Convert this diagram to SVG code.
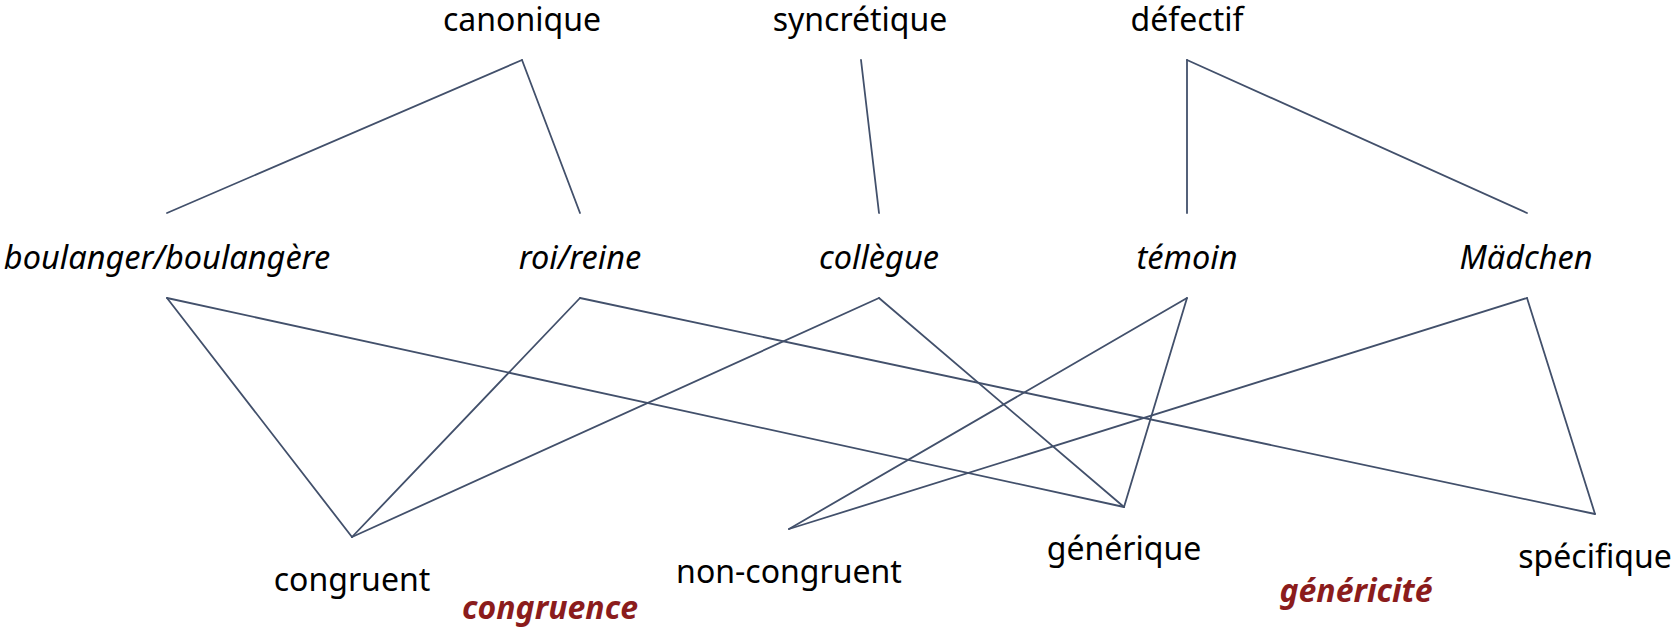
<svg xmlns="http://www.w3.org/2000/svg" width="1671" height="627" viewBox="0 0 1671 627">
<style>
text{font-family:"Noto Sans","Open Sans","DejaVu Sans",sans-serif;font-size:32px;fill:#000;text-anchor:middle}
.i{font-style:italic;font-size:32.5px}
.r{font-style:italic;font-weight:bold;fill:#8b1c1c}
.c line{stroke:#42506b;stroke-width:1.8;stroke-linecap:round}
</style>
<rect width="1671" height="627" fill="#fff"/>
<g class="c" id="connectors">
<line x1="522" y1="60" x2="167" y2="213"/>
<line x1="522" y1="60" x2="580" y2="213"/>
<line x1="861" y1="60" x2="879" y2="213"/>
<line x1="1187" y1="60" x2="1187" y2="213"/>
<line x1="1187" y1="60" x2="1527" y2="213"/>
<line x1="167" y1="298" x2="352" y2="537"/>
<line x1="167" y1="298" x2="1124" y2="507"/>
<line x1="580" y1="298" x2="352" y2="537"/>
<line x1="580" y1="298" x2="1595" y2="514"/>
<line x1="879" y1="298" x2="352" y2="537"/>
<line x1="879" y1="298" x2="1124" y2="507"/>
<line x1="1187" y1="298" x2="789" y2="529"/>
<line x1="1187" y1="298" x2="1124" y2="507"/>
<line x1="1527" y1="298" x2="789" y2="529"/>
<line x1="1527" y1="298" x2="1595" y2="514"/>
</g>
<g id="canonique"><text x="522" y="31">canonique</text></g>
<g id="syncretique"><text x="860" y="31">syncrétique</text></g>
<g id="defectif"><text x="1187" y="31">défectif</text></g>
<g id="boulanger"><text class="i" x="167" y="269">boulanger/boulangère</text></g>
<g id="roi"><text class="i" x="580" y="269">roi/reine</text></g>
<g id="collegue"><text class="i" x="879" y="269">collègue</text></g>
<g id="temoin"><text class="i" x="1187" y="269">témoin</text></g>
<g id="madchen"><text class="i" x="1526" y="269">Mädchen</text></g>
<g id="congruent"><text x="352" y="591">congruent</text></g>
<g id="noncongruent"><text x="789" y="583">non-congruent</text></g>
<g id="generique"><text x="1124" y="560">générique</text></g>
<g id="specifique"><text x="1595" y="568">spécifique</text></g>
<g id="congruence"><text class="r" x="550" y="619">congruence</text></g>
<g id="genericite"><text class="r" x="1356" y="602">généricité</text></g>
</svg>
